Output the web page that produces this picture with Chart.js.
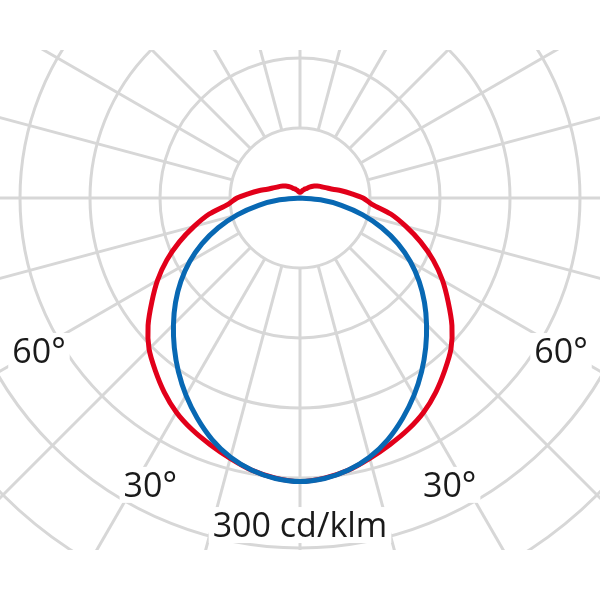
<!DOCTYPE html>
<html>
<head>
<meta charset="utf-8">
<script src="https://cdn.jsdelivr.net/npm/chart.js@4.4.1/dist/chart.umd.min.js"></script>
<style>
  html, body { margin: 0; padding: 0; background: #fff; width: 600px; height: 600px; overflow: hidden; }
  #clip { position: absolute; left: 0; top: 50px; width: 600px; height: 500px; overflow: hidden; }
  #c { position: absolute; left: -200px; top: -352px; }
</style>
</head>
<body>
<div id="clip"><canvas id="c" width="1000" height="1000"></canvas></div>
<script>
// Angles (degrees, clockwise from straight down)
const angleLabels = [0,5,10,15,20,25,30,35,40,45,50,55,60,65,70,75,80,85,90,95,100,105,110,115,120,125,130,135,140,145,150,155,160,165,170,175,
  180,185,190,195,200,205,210,215,220,225,230,235,240,245,250,255,260,265,270,275,280,285,290,295,300,305,310,315,320,325,330,335,340,345,350,355];

// Luminous intensity, cd/klm — C0/C180 plane (red)
const redValues = [243,241,237,231,225,219,212,203,193,183,170,155,141,126,110,94,79,62,54,44,36,29,25,22,20,18,16,14,12,10,9,8,7,6,5.5,5,
  5,5,5.5,6,7,8,9,10,12,14,16,18,20,22,25,29,36,44,54,62,79,94,110,126,141,155,170,183,193,203,212,219,225,231,237,241];

// Luminous intensity, cd/klm — C90/C270 plane (blue)
const blueValues = [243,241.3,237,230.1,220.3,208.3,195.4,181.7,167.6,153.4,139.3,124.7,109.3,92.6,74.6,55.7,36,17.6,0,0,0,0,0,0,0,0,0,0,0,0,0,0,0,0,0,0,
  0,0,0,0,0,0,0,0,0,0,0,0,0,0,0,0,0,0,0,17.6,36,55.7,74.6,92.6,109.3,124.7,139.3,153.4,167.6,181.7,195.4,208.3,220.3,230.1,237,241.3];

const ringStep = 60;            // cd/klm per ring
const unitLabel = '300 cd/klm';
const angleTexts = ['60°', '60°', '30°', '30°'];

const gridColor = '#d7d7d7';
const textItems = [
  { text: angleTexts[0], angle: 57.7,  value: 264.7 },
  { text: angleTexts[1], angle: -57.7, value: 264.7 },
  { text: angleTexts[2], angle: 26.6,  value: 286.5 },
  { text: angleTexts[3], angle: -26.6, value: 286.5 },
  { text: unitLabel,     angle: 0,     value: 290.6 }
];

const polarGrid = {
  id: 'polarGrid',
  beforeDatasetsDraw(chart) {
    const s = chart.scales.r, ctx = chart.ctx;
    const r0 = s.getDistanceFromCenterForValue(ringStep);
    const r1 = s.getDistanceFromCenterForValue(s.max);
    ctx.save();
    ctx.strokeStyle = gridColor;
    ctx.lineWidth = 3;
    angleLabels.forEach((a, i) => {
      if (a % 15 !== 0) return;
      const p0 = s.getPointPosition(i, r0);
      const p1 = s.getPointPosition(i, r1);
      ctx.beginPath();
      ctx.moveTo(p0.x, p0.y);
      ctx.lineTo(p1.x, p1.y);
      ctx.stroke();
    });
    ctx.restore();
  },
  afterDatasetsDraw(chart) {
    const s = chart.scales.r, ctx = chart.ctx;
    ctx.save();
    ctx.font = '34px "Open Sans", sans-serif';
    ctx.textAlign = 'center';
    ctx.textBaseline = 'alphabetic';
    const start = s.options.startAngle;
    textItems.forEach(t => {
      const d = s.getDistanceFromCenterForValue(t.value);
      const ang = (start + t.angle) * Math.PI / 180 - Math.PI / 2;
      const x = s.xCenter + Math.cos(ang) * d;
      const y = s.yCenter + Math.sin(ang) * d;
      const m = ctx.measureText(t.text);
      const pad = 4;
      ctx.fillStyle = '#ffffff';
      ctx.fillRect(x - m.width / 2 - pad, y - 26 - pad, m.width + 2 * pad, 26 + 2 * pad + 2);
      ctx.fillStyle = '#1a1a1a';
      ctx.fillText(t.text, x, y);
    });
    ctx.restore();
  }
};

new Chart(document.getElementById('c'), {
  type: 'radar',
  data: {
    labels: angleLabels,
    datasets: [
      { label: 'C90-C270', data: blueValues, borderColor: '#0868b3', borderWidth: 5, fill: false, pointRadius: 0, tension: 0.3 },
      { label: 'C0-C180', data: redValues, borderColor: '#e2001a', borderWidth: 5, fill: false, pointRadius: 0, tension: 0.3 }
    ]
  },
  options: {
    responsive: false,
    animation: false,
    layout: { padding: 0 },
    plugins: { legend: { display: false }, tooltip: { enabled: false } },
    elements: { line: { borderJoinStyle: 'round', borderCapStyle: 'round' } },
    scales: {
      r: {
        startAngle: 180,
        min: 0,
        max: 428.5714,
        ticks: { display: false, stepSize: ringStep },
        pointLabels: { display: false },
        angleLines: { display: false },
        grid: { circular: true, color: gridColor, lineWidth: 3 }
      }
    }
  },
  plugins: [polarGrid]
});
</script>
</body>
</html>
